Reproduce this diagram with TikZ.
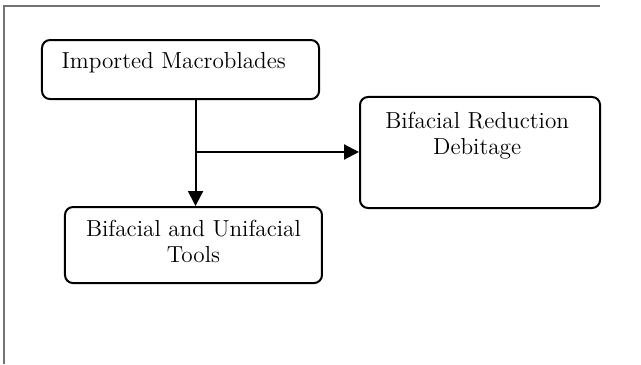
\documentclass[tikz,border=0pt]{standalone}
\usepackage{tikz}
\usetikzlibrary{positioning,arrows.meta}

\begin{document}
\begin{tikzpicture}[font=\fontsize{11.6pt}{13pt}\selectfont,
                    box/.style={draw, line width=1pt, rounded corners=4pt, inner sep=0pt},
                    flow/.style={line width=1pt, -{Triangle[length=7.5pt,width=7.5pt]}}]

  \useasboundingbox (0,0) rectangle (11.264,6.397);

  % page frame
  \draw [black!55, line width=0.6pt] (0.07,0) -- (0.07,6.29) -- (10.54,6.29);

  \node [box, minimum width=4.868cm, minimum height=1.037cm] (macro) at (3.172,5.175) {};
  \node [anchor=base west] (macro-text) at ([xshift=0.24cm,yshift=-0.51cm]macro.north west)
        {Imported Macroblades};

  \node [box, minimum width=4.218cm, minimum height=1.951cm] (debitage) at (8.435,3.717) {};
  \node [below=0.27cm of debitage.north, xshift=-0.05cm, align=center, inner sep=0pt] (debitage-text)
        {Bifacial Reduction \\ Debitage};

  \node [box, minimum width=4.516cm, minimum height=1.336cm] (tools) at (3.400,2.091) {};
  \node [below=0.25cm of tools.north, align=center, inner sep=0pt] (tools-text)
        {Bifacial and Unifacial \\ Tools};

  \coordinate (split) at (3.436,3.726);
  \draw [flow] (split |- macro.south) -- (split |- tools.north);
  \draw [flow] (split) -- (split -| debitage.west);

\end{tikzpicture}
\end{document}
